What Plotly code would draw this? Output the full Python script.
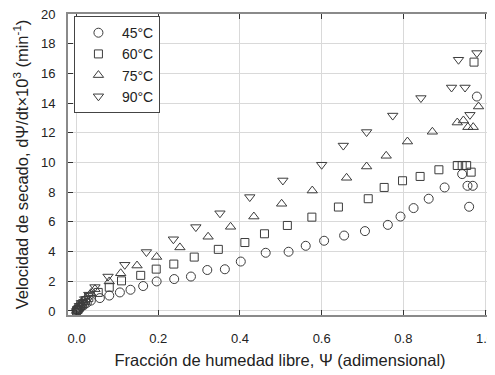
import plotly.graph_objects as go

x45 = [0.0, 0.002, 0.005, 0.008, 0.012, 0.018, 0.025, 0.035, 0.057, 0.080, 0.106, 0.132, 0.163, 0.196,
       0.239, 0.280, 0.320, 0.363, 0.402, 0.463, 0.519, 0.561, 0.606, 0.655, 0.706, 0.762, 0.793,
       0.825, 0.862, 0.901, 0.944, 0.957, 0.970, 0.961, 0.980]
y45 = [0.0, 0.05, 0.1, 0.2, 0.3, 0.4, 0.55, 0.7, 0.87, 1.04, 1.25, 1.43, 1.68, 1.99,
       2.15, 2.32, 2.76, 2.81, 3.33, 3.92, 3.99, 4.39, 4.73, 5.08, 5.38, 5.80, 6.36,
       6.93, 7.56, 8.32, 9.22, 8.43, 8.43, 7.02, 14.44]

x60 = [0.0, 0.003, 0.006, 0.010, 0.015, 0.022, 0.030, 0.053, 0.080, 0.110, 0.157, 0.195, 0.238,
       0.288, 0.347, 0.412, 0.460, 0.516, 0.576, 0.641, 0.714, 0.753, 0.798, 0.841, 0.887,
       0.932, 0.944, 0.955, 0.966, 0.973]
y60 = [0.0, 0.1, 0.2, 0.35, 0.5, 0.7, 0.9, 1.25, 1.6, 2.03, 2.40, 2.82, 3.16,
       3.63, 4.15, 4.61, 5.20, 5.76, 6.32, 7.00, 7.56, 8.32, 8.77, 9.06, 9.51,
       9.80, 9.80, 9.80, 9.35, 16.76]

x75 = [0.0, 0.003, 0.007, 0.012, 0.018, 0.025, 0.035, 0.045, 0.080, 0.108, 0.148, 0.196, 0.253,
       0.322, 0.377, 0.434, 0.502, 0.577, 0.661, 0.710, 0.758, 0.810, 0.871, 0.932, 0.947,
       0.958, 0.971, 0.984]
y75 = [0.0, 0.15, 0.3, 0.5, 0.7, 0.95, 1.2, 1.47, 1.99, 2.54, 3.06, 3.64, 4.28,
       5.00, 5.67, 6.36, 7.22, 8.11, 8.97, 9.73, 10.45, 11.41, 12.07, 12.69, 12.83,
       12.38, 12.38, 13.77]

x90 = [0.0, 0.003, 0.007, 0.012, 0.020, 0.030, 0.045, 0.077, 0.118, 0.171, 0.237, 0.292, 0.351,
       0.424, 0.505, 0.600, 0.653, 0.710, 0.774, 0.843, 0.918, 0.951, 0.963, 0.935, 0.980]
y90 = [0.0, 0.15, 0.35, 0.55, 0.8, 1.1, 1.61, 2.32, 3.11, 3.97, 4.83, 5.65, 6.58,
       7.67, 8.79, 9.85, 11.14, 12.05, 13.16, 14.34, 15.05, 15.05, 13.21, 16.92, 17.37]

labels = ["45°C", "60°C", "75°C", "90°C"]
symbols = ["circle-open", "square-open", "triangle-up-open", "triangle-down-open"]
sizes = [9, 8, 9, 9]
xs = [x45, x60, x75, x90]
ys = [y45, y60, y75, y90]

mcol = "#3c3c3c"
fig = go.Figure()
for xv, yv, lab, sym, sz in zip(xs, ys, labels, symbols, sizes):
    fig.add_trace(go.Scatter(
        x=xv, y=yv, mode="markers", name=lab,
        marker=dict(symbol=sym, size=sz, color=mcol, line=dict(width=1, color=mcol)),
    ))

font = "Liberation Sans, Arial, sans-serif"
axis_common = dict(
    showline=True, linecolor="#8a8a8a", linewidth=2, mirror="ticks",
    ticks="inside", ticklen=5, tickcolor="#333333", tickwidth=1,
    showgrid=True, gridcolor="#d9d9d9", gridwidth=1, zeroline=False,
    tickfont=dict(family=font, size=13, color="#222222"),
    automargin=False, ticklabeloverflow="allow",
)
fig.update_layout(
    width=487, height=367,
    margin=dict(l=60, r=3, t=6, b=60),
    paper_bgcolor="white", plot_bgcolor="white",
    font=dict(family=font, color="#222222"),
    showlegend=True,
    legend=dict(
        x=0.014, y=0.993, xanchor="left", yanchor="top",
        bordercolor="#444444", borderwidth=1, bgcolor="white",
        font=dict(family=font, size=14, color="#222222"),
        tracegroupgap=0, itemwidth=37,
    ),
    xaxis=dict(
        range=[-0.021, 1.017], tickvals=[0, 0.2, 0.4, 0.6, 0.8, 1.0],
        tickformat=".1f", ticklabelstandoff=10,
        title=dict(text="Fracción de humedad libre, Ψ (adimensional)",
                   font=dict(family=font, size=16.5, color="#222222"), standoff=10),
        **axis_common,
    ),
    yaxis=dict(
        range=[-0.27, 20], tickvals=list(range(0, 21, 2)), ticklabelstandoff=8,
        title=dict(text="Velocidad de secado, dΨ/dt×10<sup>3</sup> (min<sup>-1</sup>)",
                   font=dict(family=font, size=16.5, color="#222222"), standoff=8),
        **axis_common,
    ),
)
fig.write_html("out.html")
